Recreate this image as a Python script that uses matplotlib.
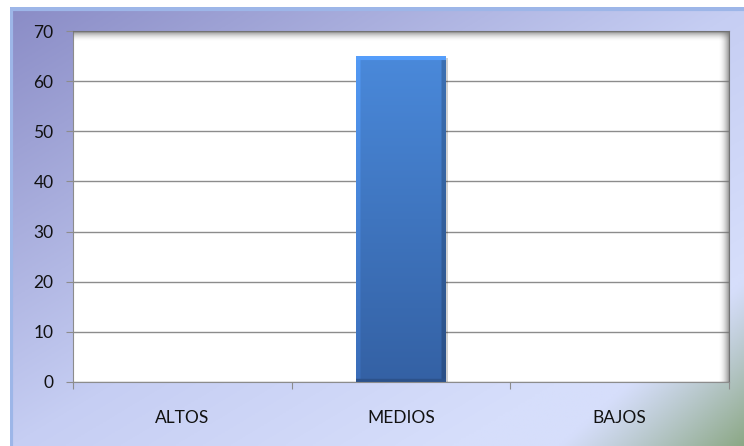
import numpy as np
import matplotlib.pyplot as plt
from matplotlib.colors import to_rgb
from matplotlib.patches import Rectangle

# datos del grafico
categorias = ["ALTOS", "MEDIOS", "BAJOS"]
valores = [0, 65, 0]
ticks_y = [0, 10, 20, 30, 40, 50, 60, 70]

plt.rcParams['font.family'] = ['Lato', 'DejaVu Sans']


def mezcla(t, puntos, colores):
    # interpola colores por canal
    cols = np.array([to_rgb(c) for c in colores])
    return np.stack([np.interp(t, puntos, cols[:, k]) for k in range(3)], axis=-1)


fig = plt.figure(figsize=(7.44, 4.46), dpi=100)

# fondo degradado
fondo = fig.add_axes([10/744, 0, 734/744, 439/446])
u, v = np.meshgrid(np.linspace(0, 1, 300), np.linspace(0, 1, 200))
t = (u + v) / 2
img = mezcla(t, [0, 0.5, 0.8, 1], ["#8A8CC6", "#C6CEF3", "#D6DEFB", "#D6DEFB"])
s = 0.6 * u + 0.4 * v
g = np.clip((s - 0.85) / 0.15, 0, 1) ** 1.1
verde = np.array(to_rgb("#8CA886"))
img = img * (1 - g[..., None]) + verde * g[..., None]
fondo.imshow(img, extent=[0, 1, 0, 1], aspect="auto", origin="upper")
fondo.plot([0.002, 0.002, 1], [0, 0.996, 0.996], color="#9DB6E8", lw=3,
           solid_capstyle="butt")
fondo.set_xlim(0, 1)
fondo.set_ylim(0, 1)
fondo.axis("off")

# area de trazado
ax = fig.add_axes([73/744, 64/446, 656/744, 351/446])
ax.set_facecolor("white")
x = np.arange(len(categorias))
barras = ax.bar(x, valores, width=0.41, color="#3F75C0", zorder=2)
ax.set_xlim(-0.5, 2.5)
ax.set_ylim(0, 70)
ax.set_yticks(ticks_y)
ax.yaxis.grid(True, color="#8C8C8C", lw=1)
ax.set_axisbelow(True)

# degradado en la barra
for b in barras:
    if b.get_height() <= 0:
        continue
    x0, w, h = b.get_x(), b.get_width(), b.get_height()
    yy, xx = np.meshgrid(np.linspace(0, 1, 400), np.linspace(0, 1, 100), indexing="ij")
    tex = mezcla(yy, [0, 1], ["#4A89DA", "#3461A4"])
    borde = np.ones_like(xx)
    borde[xx < 0.045] = 1.12
    borde[xx > 0.955] = 0.82
    borde[yy < 0.012] = 1.15
    borde[yy > 0.99] = 0.85
    tex = np.clip(tex * borde[..., None], 0, 1)
    # sombra de la barra
    ax.add_patch(Rectangle((x0 + 0.008, 0), w, h - 0.4, color="#000000",
                           alpha=0.18, zorder=1.5, lw=0))
    im = ax.imshow(tex, extent=[x0, x0 + w, 0, h], aspect="auto",
                   origin="upper", zorder=2.5)
    im.set_clip_path(b)

# sombra interior del area de trazado
ns = 30
a = np.linspace(0, 1, ns) ** 2
sombra_der = np.zeros((1, ns, 4))
sombra_der[..., :3] = 0.45
sombra_der[0, :, 3] = a * 0.85
ax.imshow(sombra_der, extent=[1 - 0.017, 1, 0, 1], transform=ax.transAxes,
          aspect="auto", zorder=3)
sombra_sup = np.zeros((ns, 1, 4))
sombra_sup[..., :3] = 0.45
sombra_sup[:, 0, 3] = a[::-1] * 0.85
ax.imshow(sombra_sup, extent=[0, 1, 1 - 0.03, 1], transform=ax.transAxes,
          aspect="auto", zorder=3)
ax.set_xlim(-0.5, 2.5)
ax.set_ylim(0, 70)

for lado in ["left", "bottom", "top", "right"]:
    ax.spines[lado].set_color("#8C8C8C")
ax.spines["top"].set_color("#7A7A7A")
ax.spines["right"].set_color("#7A7A7A")

# ejes
ax.set_xticks([-0.5, 0.5, 1.5, 2.5])
ax.set_xticklabels([])
ax.set_xticks(x, minor=True)
ax.set_xticklabels(categorias, minor=True)
ax.tick_params(axis="x", which="major", length=5, color="#8C8C8C")
ax.tick_params(axis="x", which="minor", length=0, pad=20, labelsize=12.5,
               labelcolor="#111111")
ax.tick_params(axis="y", length=5, color="#8C8C8C", pad=9, labelsize=12.5,
               labelcolor="#111111")

fig.savefig("out.png", dpi=100)
